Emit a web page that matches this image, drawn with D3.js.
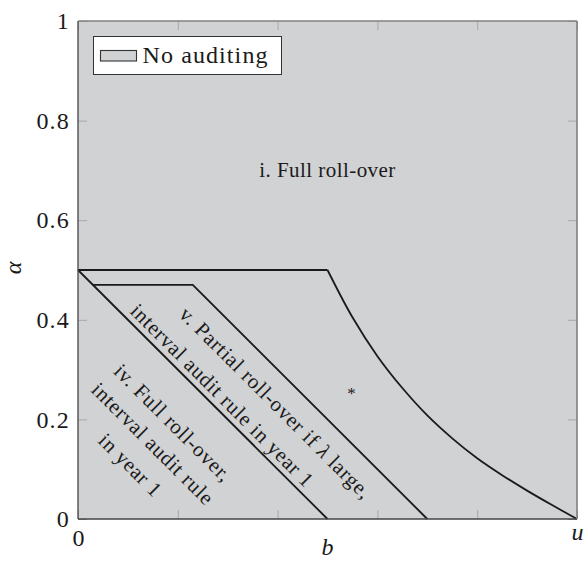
<!DOCTYPE html>
<html>
<head>
<meta charset="utf-8">
<script src="https://cdn.jsdelivr.net/npm/d3@7/dist/d3.min.js"></script>
<style>
  html, body { margin: 0; padding: 0; background: #ffffff; }
  svg { display: block; }
  svg text { font-family: "Liberation Serif", serif !important; fill: #1a1a1a; }
</style>
</head>
<body>
<svg id="chart" width="584" height="561"></svg>
<script>
// ---- data ----
const xTickValues = [0, 0.2, 0.4, 0.6, 0.8, 1];
const xTickLabels = ["0", "", "", "", "", "u"];
const yTickValues = [0, 0.2, 0.4, 0.6, 0.8, 1];
const yTickLabels = ["0", "0.2", "0.4", "0.6", "0.8", "1"];

// upper boundary: flat part, then curve down to (u, 0)
const flatB = [0, 0.5];
const flatA = [0.5, 0.5];
const curveB = [0.5, 0.55, 0.6, 0.65, 0.7, 0.75, 0.8, 0.85, 0.9, 0.95, 1.0];
const curveA = [0.5, 0.405, 0.327, 0.263, 0.208, 0.162, 0.122, 0.088, 0.057, 0.028, 0];
// diagonal boundary
const diagB = [0, 0.5];
const diagA = [0.5, 0];
// partial roll-over boundary
const partB = [0.03, 0.23, 0.7];
const partA = [0.47, 0.47, 0];

// region labels
const labelText = ["i. Full roll-over",
                   "v. Partial roll-over if λ large,",
                   "interval audit rule in year 1",
                   "iv. Full roll-over,",
                   "interval audit rule",
                   "in year 1",
                   "*"];
const labelB = [0.5, 0.395, 0.288, 0.189, 0.149, 0.104, 0.548];
const labelA = [0.7, 0.232, 0.247, 0.192, 0.150, 0.107, 0.259];
const labelRot = [0, 45, 45, 45, 45, 45, 0];

const legendLabel = "No auditing";
const xLabel = "b";
const yLabel = "α";

// ---- layout ----
const svg = d3.select("#chart");
const plotLeft = 78, plotTop = 21, plotW = 499, plotH = 498;
const x = d3.scaleLinear().domain([0, 1]).range([plotLeft, plotLeft + plotW]);
const y = d3.scaleLinear().domain([0, 1]).range([plotTop + plotH, plotTop]);
const fillGray = "#d1d2d4";
const lineCol = "#1a1a1a";
const tickCol = "#a8a8a8";

// background area
svg.append("rect")
  .attr("x", x(0)).attr("y", y(1))
  .attr("width", x(1) - x(0)).attr("height", y(0) - y(1))
  .attr("fill", fillGray);

// axes with inward ticks
function styleAxis(g) {
  g.attr("font-family", null);
  g.select(".domain").remove();
  g.selectAll(".tick line").attr("stroke", tickCol).attr("stroke-width", 1);
  g.selectAll(".tick text").attr("font-size", 24).attr("fill", "#1a1a1a");
}
const yAxisL = svg.append("g").attr("transform", `translate(${x(0)},0)`)
  .call(d3.axisLeft(y).tickValues(yTickValues).tickSize(-9).tickPadding(8)
    .tickFormat((d, i) => yTickLabels[i]));
styleAxis(yAxisL);
yAxisL.selectAll(".tick text").attr("letter-spacing", 1.2);

const yAxisR = svg.append("g").attr("transform", `translate(${x(1)},0)`)
  .call(d3.axisRight(y).tickValues(yTickValues).tickSize(-9).tickFormat(""));
styleAxis(yAxisR);

const xAxisT = svg.append("g").attr("transform", `translate(0,${y(1)})`)
  .call(d3.axisTop(x).tickValues(xTickValues).tickSize(-9).tickFormat(""));
styleAxis(xAxisT);

const xAxisB = svg.append("g").attr("transform", `translate(0,${y(0)})`)
  .call(d3.axisBottom(x).tickValues(xTickValues).tickSize(-9).tickPadding(10)
    .tickFormat((d, i) => xTickLabels[i]));
styleAxis(xAxisB);
xAxisB.selectAll(".tick text")
  .filter((d, i) => xTickLabels[i] === "u")
  .attr("font-style", "italic").attr("dy", "0.45em");

// boundary lines
const line = d3.line().x(d => x(d[0])).y(d => y(d[1]));
const curveLine = d3.line().x(d => x(d[0])).y(d => y(d[1])).curve(d3.curveCatmullRom.alpha(0.5));
function drawPath(gen, bs, as) {
  svg.append("path")
    .datum(bs.map((b, i) => [b, as[i]]))
    .attr("d", gen)
    .attr("fill", "none").attr("stroke", lineCol)
    .attr("stroke-width", 1.8).attr("stroke-linejoin", "miter");
}
drawPath(line, flatB, flatA);
drawPath(curveLine, curveB, curveA);
drawPath(line, diagB, diagA);
drawPath(line, partB, partA);

// frame
svg.append("line").attr("x1", x(0)).attr("x2", x(0)).attr("y1", y(0)).attr("y2", y(1))
  .attr("stroke", "#444").attr("stroke-width", 1.3);
svg.append("line").attr("x1", x(0)).attr("x2", x(1)).attr("y1", y(0)).attr("y2", y(0))
  .attr("stroke", "#444").attr("stroke-width", 1.3);
svg.append("line").attr("x1", x(0)).attr("x2", x(1)).attr("y1", y(1)).attr("y2", y(1))
  .attr("stroke", "#808080").attr("stroke-width", 1.6);
svg.append("line").attr("x1", x(1)).attr("x2", x(1)).attr("y1", y(0)).attr("y2", y(1))
  .attr("stroke", "#808080").attr("stroke-width", 1.6);

// region labels
labelText.forEach((t, i) => {
  const isStar = t === "*";
  const rotated = labelRot[i] !== 0;
  const txt = svg.append("text")
    .attr("transform", `translate(${x(labelB[i])},${y(labelA[i])}) rotate(${labelRot[i]})`)
    .attr("text-anchor", "middle")
    .attr("dy", isStar ? "0.55em" : "0.3em")
    .attr("font-size", isStar ? 17 : 21)
    .attr("letter-spacing", isStar ? 0 : (rotated ? 0.75 : 0.45));
  const parts = t.split("λ");
  parts.forEach((p, j) => {
    txt.append("tspan").text(p);
    if (j < parts.length - 1) txt.append("tspan").attr("font-style", "italic").text("λ");
  });
});

// legend
const lg = svg.append("g");
lg.append("rect").attr("x", 93.5).attr("y", 36.5).attr("width", 188).attr("height", 38)
  .attr("fill", "#ffffff").attr("stroke", "#333").attr("stroke-width", 1);
lg.append("rect").attr("x", 100.5).attr("y", 50.5).attr("width", 36).attr("height", 10.5)
  .attr("fill", fillGray).attr("stroke", "#333").attr("stroke-width", 1.1);
lg.append("text").attr("x", 142.5).attr("y", 62.5).attr("font-size", 24)
  .attr("letter-spacing", 1.1).text(legendLabel);

// axis titles
svg.append("text").attr("x", x(0.5)).attr("y", 555).attr("text-anchor", "middle")
  .attr("font-size", 24).attr("font-style", "italic").text(xLabel);
svg.append("text").attr("transform", `translate(15,268) rotate(-90)`)
  .attr("text-anchor", "middle").attr("dy", "0.25em")
  .attr("font-size", 24).attr("font-style", "italic").text(yLabel);
</script>
</body>
</html>
